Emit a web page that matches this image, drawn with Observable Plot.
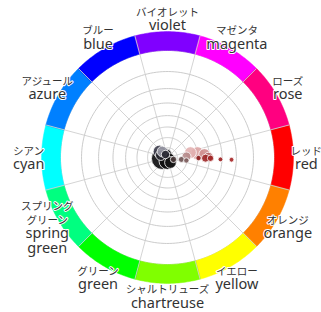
<!DOCTYPE html>
<html>
<head>
<meta charset="utf-8">
<script src="https://cdn.jsdelivr.net/npm/d3@7"></script>
<script src="https://cdn.jsdelivr.net/npm/@observablehq/plot@0.6"></script>
<style>
  html, body { margin: 0; padding: 0; background: #fff; }
</style>
</head>
<body>
<div id="chart"></div>
<script>
// Hue wheel categories
const hues = [0, 30, 60, 90, 120, 150, 180, 210, 240, 270, 300, 330];
const enNames = ["red", "orange", "yellow", "chartreuse", "green", "spring\ngreen", "cyan", "azure", "blue", "violet", "magenta", "rose"];
const jaNames = ["レッド", "オレンジ", "イエロー", "シャルトリューズ", "グリーン", "スプリング\nグリーン", "シアン", "アジュール", "ブルー", "バイオレット", "マゼンタ", "ローズ"];
const hueColors = ["#ff0000", "#ff8000", "#ffff00", "#80ff00", "#00ff00", "#00ff80", "#00ffff", "#0080ff", "#0000ff", "#8000ff", "#ff00ff", "#ff0080"];

// Grid
const gridLevels = [0.125, 0.25, 0.375, 0.5, 0.625, 0.75, 0.875, 1];
const spokeHues = [15, 45, 75, 105, 135, 165, 195, 225, 255, 285, 315, 345];

// Points: hue (deg), saturation (0..1), count, colour
const ptHue   = [169, 90, 59, 200, 217, 230, 236, 18, 357, 348, 352, 355, 359, 8, 9, 1, 1, 1, 2, 2];
const ptSat   = [0.065, 0.045, 0.074, 0.09, 0.127, 0.099, 0.046, 0.08, 0.239, 0.293, 0.373, 0.449, 0.49, 0.177, 0.24, 0.381, 0.459, 0.512, 0.611, 0.71];
const ptCount = [85, 50, 24, 20, 28, 20, 12, 7, 14, 24, 30, 22, 14, 6, 5, 5, 11, 7, 4, 4];
const ptColor = ["#0a0a0c", "#0f0f10", "#161616", "#202028", "#3b3b4a", "#9a9aa6", "#24242e", "#4a3a3a", "#b58a8a", "#e2b0b0", "#dba4a4", "#cf9090", "#b56a6a", "#6b5050", "#7a5a5a", "#8b1c1c", "#9e2a2a", "#a02020", "#9b1e1e", "#a52424"];

// polar helpers: hue -> longitude, saturation -> latitude
const SPAN = 100;          // degrees of arc for saturation 1
const RING_IN = 1.0, RING_OUT = 1.09, LABEL_R = 1.142, FRAME_R = 1.195;
const lon = h => 90 - h;
const lat = v => 90 - v * SPAN;

const points = ptHue.map((h, i) => ({hue: h, sat: ptSat[i], count: ptCount[i], color: ptColor[i]}));
const labels = hues.map((h, i) => ({hue: h, en: enNames[i], ja: jaNames[i]}));

// ring sectors as polygons
const sectors = hues.map((h, i) => {
  const outer = d3.range(h - 15, h + 15.001, 1).map(a => [lon(a), lat(RING_OUT)]);
  const inner = d3.range(h + 15, h - 15.001, -1).map(a => [lon(a), lat(RING_IN)]);
  let ring = [...outer, ...inner, outer[0]];
  let f = {type: "Feature", properties: {color: hueColors[i]}, geometry: {type: "Polygon", coordinates: [ring]}};
  if (d3.geoArea(f) > 2 * Math.PI) {
    ring = ring.slice().reverse();
    f = {type: "Feature", properties: {color: hueColors[i]}, geometry: {type: "Polygon", coordinates: [ring]}};
  }
  return f;
});

const gridCircles = gridLevels.map(v => d3.geoCircle().center([0, 90]).radius(v * SPAN)());

const chart = Plot.plot({
  width: 321,
  height: 312,
  marginLeft: 13,
  marginRight: 0,
  marginTop: 3,
  marginBottom: 1,
  projection: {
    type: "stereographic",
    rotate: [0, -90],
    domain: d3.geoCircle().center([0, 90]).radius(FRAME_R * SPAN)()
  },
  r: {type: "sqrt", domain: [0, 100], range: [0, 12]},
  style: {background: "#fff"},
  marks: [
    Plot.geo(gridCircles, {stroke: "#cccccc", strokeWidth: 1, fill: "none"}),
    Plot.geo(sectors, {fill: d => d.properties.color, stroke: d => d.properties.color, strokeWidth: 0.5}),
    Plot.link(spokeHues, {
      x1: d => lon(d), y1: 90,
      x2: d => lon(d), y2: lat(RING_OUT),
      stroke: "#cccccc", strokeWidth: 1, strokeOpacity: 0.85
    }),
    Plot.dot(points, {
      x: d => lon(d.hue), y: d => lat(d.sat), r: "count",
      fill: d => d.color, fillOpacity: 0.9, stroke: "white", strokeWidth: 0.8
    }),
    Plot.text(labels, {
      x: d => lon(d.hue), y: () => lat(LABEL_R), text: "ja",
      lineAnchor: "bottom", dy: -3, fontSize: 10.5, lineHeight: 1.3,
      fontFamily: "'Noto Sans CJK JP', sans-serif", fill: "#333",
      stroke: "white", strokeWidth: 2
    }),
    Plot.text(labels, {
      x: d => lon(d.hue), y: () => lat(LABEL_R), text: "en",
      lineAnchor: "top", dy: 0.5, fontSize: 14.5, lineHeight: 1.05,
      fontFamily: "'Noto Sans', sans-serif", fill: "#333",
      stroke: "white", strokeWidth: 2
    })
  ]
});
document.getElementById("chart").appendChild(chart);
</script>
</body>
</html>
